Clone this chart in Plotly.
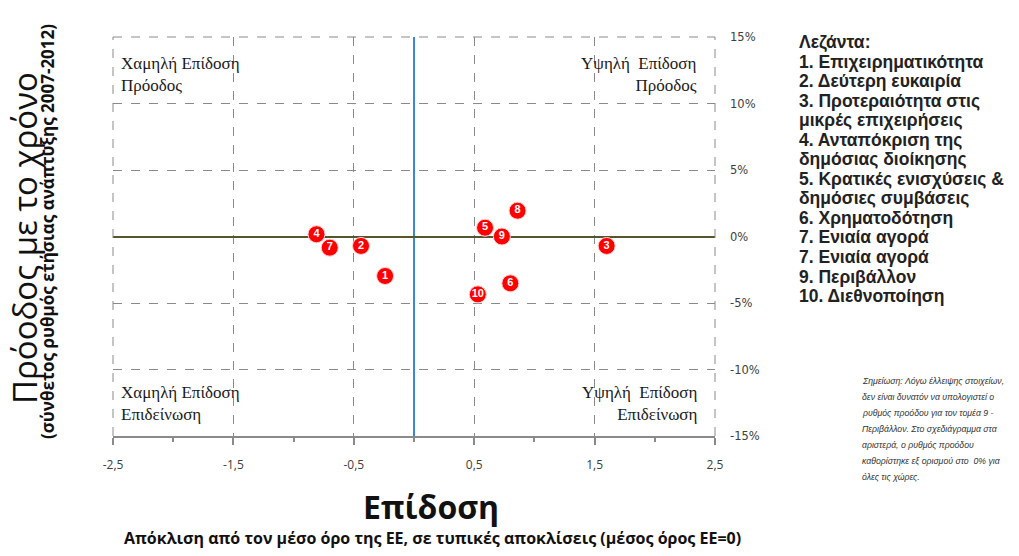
import plotly.graph_objects as go

# ---- data ----
point_labels = ["1", "2", "3", "4", "5", "6", "7", "8", "9", "10"]
performance = [-0.24, -0.44, 1.60, -0.81, 0.59, 0.80, -0.70, 0.86, 0.73, 0.53]
progress = [-2.97, -0.71, -0.71, 0.17, 0.66, -3.52, -0.84, 1.94, 0.0, -4.35]

x_ticks = [-2.5, -1.5, -0.5, 0.5, 1.5, 2.5]
x_tick_labels = ["-2,5", "-1,5", "-0,5", "0,5", "1,5", "2,5"]
x_minor = [-2, -1, 0, 1, 2]
y_ticks = [-15, -10, -5, 0, 5, 10, 15]
y_tick_labels = ["-15%", "-10%", "-5%", "0%", "5%", "10%", "15%"]

legend_title = "Λεζάντα:"
categories = [
    ["1. Επιχειρηματικότητα"],
    ["2. Δεύτερη ευκαιρία"],
    ["3. Προτεραιότητα στις", "μικρές επιχειρήσεις"],
    ["4. Ανταπόκριση της", "δημόσιας διοίκησης"],
    ["5. Κρατικές ενισχύσεις &", "δημόσιες συμβάσεις"],
    ["6. Χρηματοδότηση"],
    ["7. Ενιαία αγορά"],
    ["7. Ενιαία αγορά"],
    ["9. Περιβάλλον"],
    ["10. Διεθνοποίηση"],
]
note_lines = [
    "Σημείωση: Λόγω έλλειψης στοιχείων,",
    "δεν είναι δυνατόν να υπολογιστεί ο",
    "ρυθμός προόδου για τον τομέα 9 -",
    "Περιβάλλον. Στο σχεδιάγραμμα στα",
    "αριστερά, ο ρυθμός προόδου",
    "καθορίστηκε εξ ορισμού στο  0% για",
    "όλες τις χώρες.",
]
quadrants = [
    ("Χαμηλή Επίδοση<br>Πρόοδος", "left", "top"),
    ("Υψηλή  Επίδοση<br>Πρόοδος", "right", "top"),
    ("Χαμηλή Επίδοση<br>Επιδείνωση", "left", "bottom"),
    ("Υψηλή  Επίδοση<br>Επιδείνωση", "right", "bottom"),
]

# ---- geometry (page body has an 8px margin) ----
OFF = 8
W, H = 1019 - 2 * OFF, 556 - 2 * OFF
L, R, T, B = 113 - OFF, 715 - OFF, 37 - OFF, 436 - OFF


def px(xp):
    return (xp - OFF - L) / (R - L)


def py(yp):
    return (B - (yp - OFF)) / (B - T)


fig = go.Figure()
fig.add_trace(go.Scatter(
    x=performance, y=progress, text=point_labels,
    mode="markers+text", textposition="middle center",
    marker=dict(size=17, color="#ff0000", line=dict(color="#ffd0d0", width=1)),
    textfont=dict(family="Liberation Sans", size=11, color="white", weight="bold"),
    showlegend=False, hoverinfo="skip", cliponaxis=False,
))

grid_col = "#8a8a8a"
fig.update_layout(
    width=W, height=H,
    margin=dict(l=L, r=W - R, t=T, b=H - B),
    paper_bgcolor="white", plot_bgcolor="white",
    showlegend=False,
    xaxis=dict(
        range=[-2.5, 2.5], tickvals=x_ticks, ticktext=x_tick_labels,
        showgrid=True, gridcolor=grid_col, griddash="dash", gridwidth=1,
        zeroline=True, zerolinecolor="#3b87d6", zerolinewidth=2,
        showline=True, linecolor=grid_col, linewidth=1.5,
        ticks="outside", ticklen=7, tickcolor=grid_col, tickwidth=1.5,
        minor=dict(tickvals=x_minor, ticks="outside", ticklen=4, tickcolor=grid_col, tickwidth=1.5),
        ticklabelstandoff=10,
        tickfont=dict(family="Open Sans", size=12, color="#404040"),
        fixedrange=True,
    ),
    yaxis=dict(
        range=[-15, 15], tickvals=y_ticks, ticktext=y_tick_labels, side="right",
        showgrid=True, gridcolor=grid_col, griddash="dash", gridwidth=1,
        zeroline=True, zerolinecolor="#55552f", zerolinewidth=1.8,
        showline=False, ticks="", ticklabelstandoff=14,
        tickfont=dict(family="DejaVu Sans", size=11.5, color="#404040"),
        fixedrange=True,
    ),
)

# dashed border (left, top, right)
for x0, x1, y0, y1 in [(0, 0, 0, 1), (0, 1, 1, 1), (1, 1, 0, 1)]:
    fig.add_shape(type="line", xref="paper", yref="paper", x0=x0, x1=x1, y0=y0, y1=y1,
                  line=dict(color=grid_col, width=1, dash="dash"))

ann = []
serif = dict(family="Liberation Serif", size=17, color="#1a1a1a")
for text, side, vert in quadrants:
    ann.append(dict(
        text=text, xref="paper", yref="paper",
        x=px(119) if side == "left" else px(699),
        y=py(52) if vert == "top" else py(381),
        xanchor="left" if side == "left" else "right", yanchor="top",
        align=side, showarrow=False, font=serif,
    ))

# axis titles
ann.append(dict(text="Πρόοδος με το χρόνο", xref="paper", yref="paper",
                x=px(24), y=py(238), textangle=-90, showarrow=False,
                xanchor="center", yanchor="middle",
                font=dict(family="Open Sans", size=33, color="#111111")))
ann.append(dict(text="(σύνθετος ρυθμός ετήσιας ανάπτυξης 2007-2012)", xref="paper", yref="paper",
                x=px(47), y=py(232), textangle=-90, showarrow=False,
                xanchor="center", yanchor="middle",
                font=dict(family="Open Sans", size=17, color="#111111", weight="bold")))
ann.append(dict(text="Επίδοση", xref="paper", yref="paper",
                x=px(431), y=py(506), showarrow=False, xanchor="center", yanchor="middle",
                font=dict(family="Open Sans", size=32, color="#111111", weight="bold")))
ann.append(dict(text="Απόκλιση από τον μέσο όρο της ΕΕ, σε τυπικές αποκλίσεις (μέσος όρος ΕΕ=0)",
                xref="paper", yref="paper",
                x=px(432), y=py(538), showarrow=False, xanchor="center", yanchor="middle",
                font=dict(family="Open Sans", size=16, color="#111111", weight="bold")))

# legend text block
leg_lines = [legend_title] + [ln for cat in categories for ln in cat]
for i, ln in enumerate(leg_lines):
    ann.append(dict(text=ln, xref="paper", yref="paper", x=px(797), y=py(42 + i * 19.55),
                    xanchor="left", yanchor="middle", showarrow=False,
                    font=dict(family="Liberation Sans", size=17.5, color="#222222", weight="bold")))

# note
for i, ln in enumerate(note_lines):
    ann.append(dict(text="<i>" + ln + "</i>", xref="paper", yref="paper", x=px(860), y=py(381 + i * 16),
                    xanchor="left", yanchor="middle", showarrow=False,
                    font=dict(family="Liberation Sans", size=8.7, color="#333333")))

fig.update_layout(annotations=ann)
fig.write_html("out.html")
